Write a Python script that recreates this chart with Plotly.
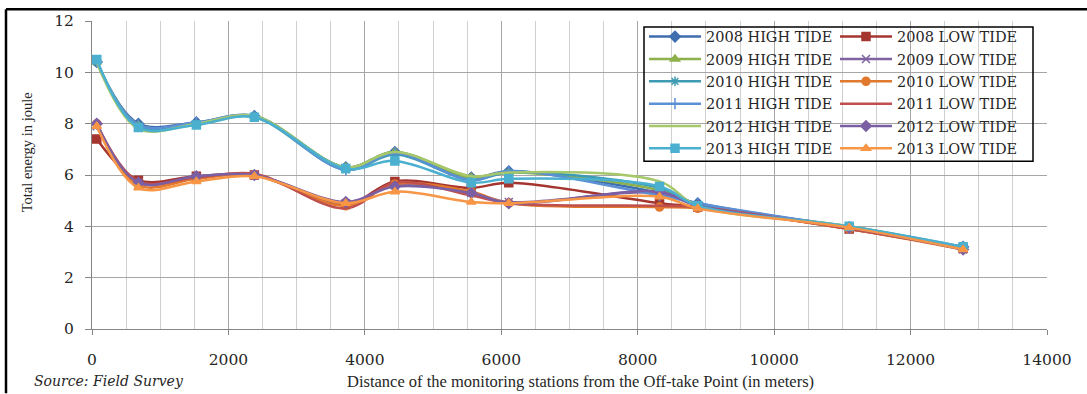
import plotly.graph_objects as go

distance = [70, 680, 1530, 2380, 3720, 4440, 5560, 6110, 8320, 8880, 11100, 12770]

ht_2008 = [10.40, 8.00, 8.05, 8.30, 6.30, 6.90, 5.90, 6.15, 5.30, 4.90, 3.95, 3.20]
ht_2009 = [10.40, 7.95, 8.00, 8.30, 6.30, 6.90, 5.90, 6.10, 5.40, 4.85, 3.95, 3.20]
ht_2010 = [10.40, 7.90, 8.00, 8.25, 6.20, 6.80, 5.80, 6.10, 5.50, 4.85, 4.00, 3.20]
ht_2011 = [10.40, 7.95, 8.05, 8.30, 6.20, 6.85, 5.80, 6.15, 5.20, 4.90, 3.95, 3.20]
ht_2012 = [10.40, 7.80, 8.00, 8.30, 6.30, 6.90, 5.95, 6.10, 5.75, 4.80, 4.00, 3.15]
ht_2013 = [10.50, 7.85, 7.95, 8.25, 6.25, 6.55, 5.70, 5.85, 5.55, 4.80, 4.00, 3.20]

lt_2008 = [7.40, 5.80, 5.95, 6.00, 4.85, 5.75, 5.50, 5.70, 4.90, 4.75, 3.90, 3.15]
lt_2009 = [7.90, 5.70, 5.90, 6.00, 4.90, 5.60, 5.30, 4.95, 5.30, 4.80, 3.95, 3.10]
lt_2010 = [8.00, 5.60, 5.85, 6.00, 4.80, 5.65, 5.35, 4.90, 4.75, 4.70, 3.90, 3.10]
lt_2011 = [8.00, 5.75, 5.90, 6.05, 4.70, 5.70, 5.20, 4.90, 4.80, 4.75, 3.90, 3.15]
lt_2012 = [8.00, 5.70, 5.95, 6.00, 4.95, 5.55, 5.30, 4.90, 5.35, 4.80, 3.95, 3.10]
lt_2013 = [7.90, 5.50, 5.75, 5.95, 4.90, 5.35, 4.95, 4.90, 5.15, 4.70, 3.95, 3.10]

series = [
    ("2008 HIGH TIDE", ht_2008, "#3E6DB0", "diamond", "legend"),
    ("2008 LOW TIDE", lt_2008, "#A5352F", "square", "legend2"),
    ("2009 HIGH TIDE", ht_2009, "#8DB04B", "triangle-up", "legend"),
    ("2009 LOW TIDE", lt_2009, "#8064A2", "x-thin", "legend2"),
    ("2010 HIGH TIDE", ht_2010, "#3D9BB3", "asterisk", "legend"),
    ("2010 LOW TIDE", lt_2010, "#E0782E", "circle", "legend2"),
    ("2011 HIGH TIDE", ht_2011, "#5B8FD6", "cross-thin", "legend"),
    ("2011 LOW TIDE", lt_2011, "#C0504D", None, "legend2"),
    ("2012 HIGH TIDE", ht_2012, "#A6C86A", None, "legend"),
    ("2012 LOW TIDE", lt_2012, "#7B5FA5", "diamond", "legend2"),
    ("2013 HIGH TIDE", ht_2013, "#4BB0D0", "square", "legend"),
    ("2013 LOW TIDE", lt_2013, "#F79646", "triangle-up", "legend2"),
]

fig = go.Figure()
for i, (name, vals, color, sym, leg) in enumerate(series):
    if sym is None:
        mode = "lines"
        marker = None
    else:
        mode = "lines+markers"
        marker = dict(symbol=sym, size=8, color=color,
                      line=dict(color=color, width=1.5))
    fig.add_trace(go.Scatter(
        x=distance, y=vals, name=name, mode=mode,
        line=dict(color=color, width=2.5, shape="spline", smoothing=1),
        marker=marker, legend=leg, legendgroup=name,
    ))

tickfont = dict(family="DejaVu Serif", size=15.5, color="#262626")
legfont = dict(family="DejaVu Serif", size=14.5, color="#262626")
fig.update_layout(
    width=1087, height=394,
    margin=dict(l=92, r=40, t=17, b=65),
    paper_bgcolor="white", plot_bgcolor="white",
    font=dict(family="DejaVu Serif", color="#262626"),
    xaxis=dict(range=[0, 14000], dtick=2000, tick0=0, tickformat="d",
               showgrid=True, gridcolor="#A6A6A6", gridwidth=1,
               minor=dict(dtick=500, showgrid=True, gridcolor="#CFCFCF"),
               showline=True, linecolor="#868686", linewidth=1,
               ticks="outside", ticklen=5, tickcolor="#868686",
               zeroline=False, tickfont=tickfont, ticklabelstandoff=11),
    yaxis=dict(range=[0, 12], dtick=2, tick0=0,
               showgrid=True, gridcolor="#A6A6A6", gridwidth=1,
               showline=True, linecolor="#868686", linewidth=1,
               ticks="outside", ticklen=6, tickcolor="#868686",
               zeroline=False, tickfont=tickfont, ticklabelstandoff=8),
    legend=dict(x=0.578, y=1.001, xanchor="left", yanchor="top",
                bgcolor="rgba(0,0,0,0)", borderwidth=0, itemwidth=52,
                tracegroupgap=0.5, font=legfont),
    legend2=dict(x=0.778, y=1.001, xanchor="left", yanchor="top",
                 bgcolor="rgba(0,0,0,0)", borderwidth=0, itemwidth=52,
                 tracegroupgap=0.5, font=legfont),
    shapes=[
        dict(type="rect", xref="paper", yref="paper",
             x0=(644 - 92) / 955, x1=(1033 - 92) / 955,
             y0=(329 - 159) / 312, y1=(329 - 23) / 312,
             line=dict(color="black", width=1.5), fillcolor="rgba(0,0,0,0)", layer="above"),
        dict(type="line", xref="paper", yref="paper",
             x0=(6 - 92) / 955, x1=(1087 - 92) / 955,
             y0=(329 - 5) / 312, y1=(329 - 5) / 312,
             line=dict(color="black", width=2.5)),
        dict(type="line", xref="paper", yref="paper",
             x0=(6 - 92) / 955, x1=(6 - 92) / 955,
             y0=(329 - 5) / 312, y1=(329 - 394) / 312,
             line=dict(color="black", width=2.5)),
    ],
    annotations=[
        dict(text="Total energy in joule", textangle=-90, showarrow=False,
             xref="paper", yref="paper", x=(27 - 92) / 955, y=(329 - 150) / 312,
             xanchor="center", yanchor="middle",
             font=dict(family="Liberation Serif", size=14.5, color="#262626")),
        dict(text="Distance of the monitoring stations from the Off-take Point (in meters)",
             showarrow=False, xref="paper", yref="paper",
             x=(580 - 92) / 955, y=(329 - 382) / 312, xanchor="center", yanchor="middle",
             font=dict(family="Liberation Serif", size=16.5, color="#262626")),
        dict(text="<i>Source: Field Survey</i>", showarrow=False,
             xref="paper", yref="paper", x=(32 - 92) / 955, y=(329 - 382) / 312,
             xanchor="left", yanchor="middle",
             font=dict(family="DejaVu Serif", size=14, color="#262626")),
    ],
)

fig.write_html("out.html",
               config={"displayModeBar": False},
               post_script="document.body.style.margin='0';document.body.style.overflow='hidden';")
